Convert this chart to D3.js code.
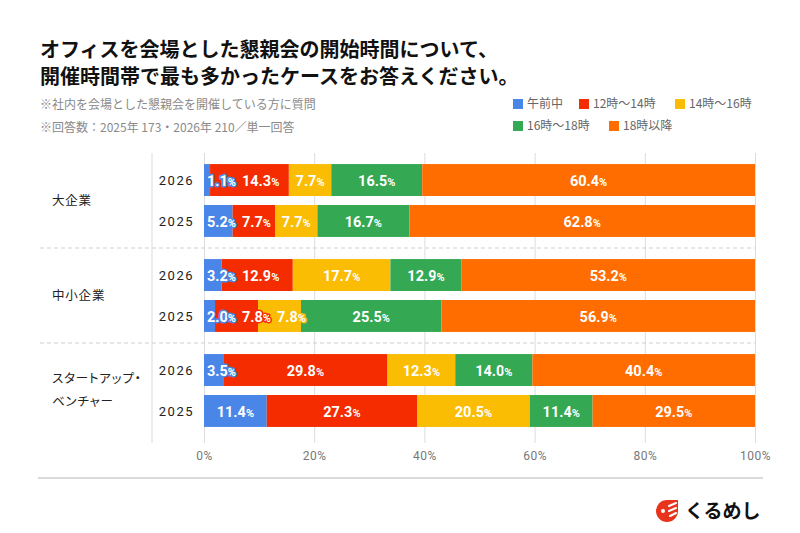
<!DOCTYPE html>
<html>
<head>
<meta charset="utf-8">
<script src="https://cdn.jsdelivr.net/npm/d3@7"></script>
<style>
  body { margin: 0; background: #fff; }
  svg { display: block; font-family: "Noto Sans CJK JP", sans-serif; }
</style>
</head>
<body>
<svg class="chart"></svg>
<script>
// data
var groups = ['大企業', '中小企業', 'スタートアップ・ベンチャー'];
var years = ['2026', '2025'];
var series = ['午前中', '12時〜14時', '14時〜16時', '16時〜18時', '18時以降'];
var colors = ['#4a86e8', '#f42c00', '#fbbc04', '#34a853', '#ff6d01'];

var large2026 = [1.1, 14.3, 7.7, 16.5, 60.4];
var large2025 = [5.2, 7.7, 7.7, 16.7, 62.8];
var small2026 = [3.2, 12.9, 17.7, 12.9, 53.2];
var small2025 = [2.0, 7.8, 7.8, 25.5, 56.9];
var startup2026 = [3.5, 29.8, 12.3, 14.0, 40.4];
var startup2025 = [11.4, 27.3, 20.5, 11.4, 29.5];

var xTicks = [0, 0.2, 0.4, 0.6, 0.8, 1];

var rowValues = [
  [large2026, large2025],
  [small2026, small2025],
  [startup2026, startup2025]
];

var rows = [];
groups.forEach(function(g, gi) {
  years.forEach(function(y, yi) {
    var r = { group: g, year: y };
    series.forEach(function(s, si) { r[s] = rowValues[gi][yi][si]; });
    rows.push(r);
  });
});

var width = 800, height = 533;
var svg = d3.select('.chart').attr('width', width).attr('height', height);

// titles
var title = svg.append('g').attr('font-weight', 'bold').attr('font-size', 20).attr('fill', '#111');
title.append('text').attr('x', 40).attr('y', 57).text('オフィスを会場とした懇親会の開始時間について、');
title.append('text').attr('x', 40).attr('y', 84).text('開催時間帯で最も多かったケースをお答えください。');

var sub = svg.append('g').attr('font-size', 12).attr('fill', '#8a8a8a');
sub.append('text').attr('x', 40).attr('y', 108.5).text('※社内を会場とした懇親会を開催している方に質問');
sub.append('text').attr('x', 40).attr('y', 131.5).text('※回答数：2025年 173・2026年 210／単一回答');

// legend
var legendPos = [[513, 104], [579, 104], [675, 104], [513, 126], [609, 126]];
var legend = svg.append('g').selectAll('g')
    .data(series)
  .enter().append('g')
    .attr('transform', function(d, i) { return `translate(${legendPos[i][0]}, ${legendPos[i][1]})`; });
legend.append('rect')
    .attr('x', 0).attr('y', -5).attr('width', 10).attr('height', 10)
    .attr('fill', function(d, i) { return colors[i]; });
legend.append('text')
    .attr('x', 14).attr('dy', '0.36em')
    .attr('font-size', 12).attr('fill', '#666')
    .text(function(d) { return d; });

// scales
var x = d3.scaleLinear().domain([0, 1]).range([204, 755]);
var yGroup = d3.scaleBand().domain(groups).range([153, 438]);
var yYear = d3.scaleBand().domain(years).range([0, yGroup.bandwidth()])
    .paddingInner(0.22).paddingOuter(0.27);

// grid + axis
var xAxis = d3.axisBottom(x)
    .tickValues(xTicks)
    .tickSize(443 - 153)
    .tickPadding(8)
    .tickFormat(d3.format('.0%'));

svg.append('g')
    .attr('transform', 'translate(0, 153)')
    .call(xAxis)
    .call(function(g) {
      g.select('.domain').remove();
      g.selectAll('.tick line').attr('stroke', '#dcdcdc');
      g.selectAll('.tick text').attr('fill', '#777').attr('font-size', 12)
        .attr('font-family', 'Roboto, "Liberation Sans", sans-serif').attr('letter-spacing', 0.5);
    });

svg.append('line')
    .attr('x1', 152).attr('x2', 152).attr('y1', 153).attr('y2', 443)
    .attr('stroke', '#dcdcdc');

svg.selectAll('.sep')
    .data(groups.slice(1))
  .enter().append('line')
    .attr('class', 'sep')
    .attr('x1', 40).attr('x2', 755)
    .attr('y1', function(d) { return yGroup(d); })
    .attr('y2', function(d) { return yGroup(d); })
    .attr('stroke', '#cfcfcf').attr('stroke-dasharray', '4,3');

// group labels
var gl = svg.append('g').attr('font-size', 12.5).attr('fill', '#222')
    .attr('letter-spacing', 0.8).style('font-feature-settings', '"palt"');
gl.selectAll('text')
    .data(groups)
  .enter().append('text')
    .attr('x', 52)
    .attr('y', function(d) { return yGroup(d) + yGroup.bandwidth() / 2; })
    .each(function(d) {
      var lines = d === 'スタートアップ・ベンチャー' ? ['スタートアップ・', 'ベンチャー'] : [d];
      var t = d3.select(this);
      lines.forEach(function(l, i) {
        t.append('tspan').attr('x', 52)
          .attr('dy', i === 0 ? ((0.36 - (lines.length - 1) * 0.95) + 'em') : '1.85em')
          .text(l);
      });
    });

// stacks
var stack = d3.stack().keys(series).offset(d3.stackOffsetExpand);
var stacked = stack(rows);

function rowY(d) { return yGroup(d.data.group) + yYear(d.data.year); }

var layers = svg.append('g').selectAll('g')
    .data(stacked)
  .enter().append('g')
    .attr('fill', function(d, i) { return colors[i]; });

layers.selectAll('rect')
    .data(function(d) { return d; })
  .enter().append('rect')
    .attr('x', function(d) { return x(d[0]); })
    .attr('y', rowY)
    .attr('width', function(d) { return x(d[1]) - x(d[0]); })
    .attr('height', yYear.bandwidth());

// year labels
svg.append('g').selectAll('text')
    .data(rows)
  .enter().append('text')
    .attr('x', 194)
    .attr('y', function(d) { return yGroup(d.group) + yYear(d.year) + yYear.bandwidth() / 2; })
    .attr('dy', '0.36em')
    .attr('text-anchor', 'end')
    .attr('font-size', 13).attr('fill', '#222').attr('letter-spacing', 1.5)
    .attr('font-family', 'Roboto, "Liberation Sans", sans-serif')
    .text(function(d) { return d.year; });

// value labels, pushed right when they would overlap
var labelG = svg.append('g')
    .attr('font-family', 'Roboto, "Liberation Sans", sans-serif')
    .attr('font-weight', 'bold');

rows.forEach(function(r, ri) {
  var prevEnd = -Infinity;
  stacked.forEach(function(layer, si) {
    var d = layer[ri];
    var v = r[series[si]];
    var t = labelG.append('text')
        .attr('y', rowY(d) + yYear.bandwidth() / 2)
        .attr('dy', '0.36em')
        .attr('fill', '#fff')
        .attr('stroke', colors[si]).attr('stroke-width', 3)
        .attr('stroke-linejoin', 'round')
        .attr('paint-order', 'stroke');
    t.append('tspan').attr('font-size', 14.5).text(v.toFixed(1));
    t.append('tspan').attr('font-size', 11).text('%');
    var w = t.node().getComputedTextLength();
    var x0 = x(d[0]), x1 = x(d[1]);
    var start = Math.max((x0 + x1) / 2 - w / 2, x0 + 3, prevEnd + 6);
    t.attr('x', start);
    prevEnd = start + w;
  });
});

// footer
svg.append('line')
    .attr('x1', 38).attr('x2', 763).attr('y1', 478).attr('y2', 478)
    .attr('stroke', '#b5b5b5');

var logo = svg.append('g').attr('transform', 'translate(667, 511)');
logo.append('path')
    .attr('d', 'M 0 -11 A 11 11 0 1 0 11 0 L 11 -11 Z')
    .attr('fill', '#e8341c');
logo.append('circle').attr('cx', -4).attr('cy', 0).attr('r', 2).attr('fill', '#fff');
logo.append('path')
    .attr('d', 'M 2 -5 L 9 -8 M 2 0 L 9 -3 M 3 5 L 9 2')
    .attr('stroke', '#fff').attr('stroke-width', 2).attr('stroke-linecap', 'round').attr('fill', 'none');
logo.append('text')
    .attr('x', 18).attr('y', 0).attr('dy', '0.36em')
    .attr('font-size', 19).attr('font-weight', 'bold').attr('fill', '#111')
    .text('くるめし');
</script>
</body>
</html>
